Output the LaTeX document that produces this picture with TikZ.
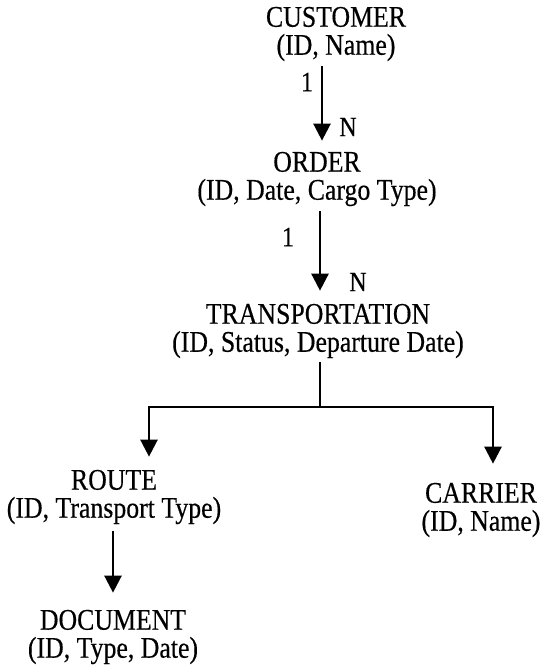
\documentclass[tikz,border=0pt]{standalone}
\usepackage{fontspec}
\setmainfont{Liberation Serif}[FakeStretch=0.86,FakeBold=0.4]
\usetikzlibrary{arrows.meta,positioning}
\tikzset{
  entity/.style={align=center, inner sep=0pt, font=\fontsize{30}{28}\selectfont},
  card/.style  ={inner sep=0pt, font=\fontsize{28}{28}\selectfont},
  link/.style  ={line width=2.5pt},
  rel/.style   ={link, -{Triangle[length=17pt,width=17pt]}}
}

\begin{document}
\begin{tikzpicture}[x=1pt,y=-1pt]
\useasboundingbox (0,0) rectangle (550,670);
% entities
\node[entity] (cust)    at (336,34)  {CUSTOMER\\(ID, Name)};
\node[entity] (order)   at (317,179) {ORDER\\(ID, Date, Cargo Type)};
\node[entity] (trans)   at (318,331) {TRANSPORTATION\\(ID, Status, Departure Date)};
\node[entity] (route)   at (114,497) {ROUTE\\(ID, Transport Type)};
\node[entity] (carrier) at (481,510) {CARRIER\\(ID, Name)};
\node[entity] (doc)     at (113,637) {DOCUMENT\\(ID, Type, Date)};
% cardinalities
\node[card] (c1a) at (307,82)  {1};
\node[card] (c1b) at (348,127) {N};
\node[card] (c2a) at (288,237) {1};
\node[card] (c2b) at (358,282) {N};
% fork under transportation
\coordinate (fork) at (320,407);
\coordinate (lft)  at (149,407);
\coordinate (rgt)  at (493,407);
% relations
\draw[rel, shorten <=5pt, shorten >=11pt]
  ([xshift=-14pt]cust.south) -- ([xshift=-14pt]cust.south |- order.north);
\draw[rel, shorten <=5pt, shorten >=13pt]
  ([xshift=3pt]order.south) -- ([xshift=3pt]order.south |- trans.north);
\draw[link, shorten <=4pt] (trans.south -| fork) -- (fork);
\draw[rel, shorten >=13pt] (fork) -- (lft) -- (lft |- route.north);
\draw[rel, shorten >=19pt] (fork) -- (rgt) -- (rgt |- carrier.north);
\draw[rel, shorten <=7pt, shorten >=17pt]
  ([xshift=-1pt]route.south) -- ([xshift=-1pt]route.south |- doc.north);
\end{tikzpicture}
\end{document}
